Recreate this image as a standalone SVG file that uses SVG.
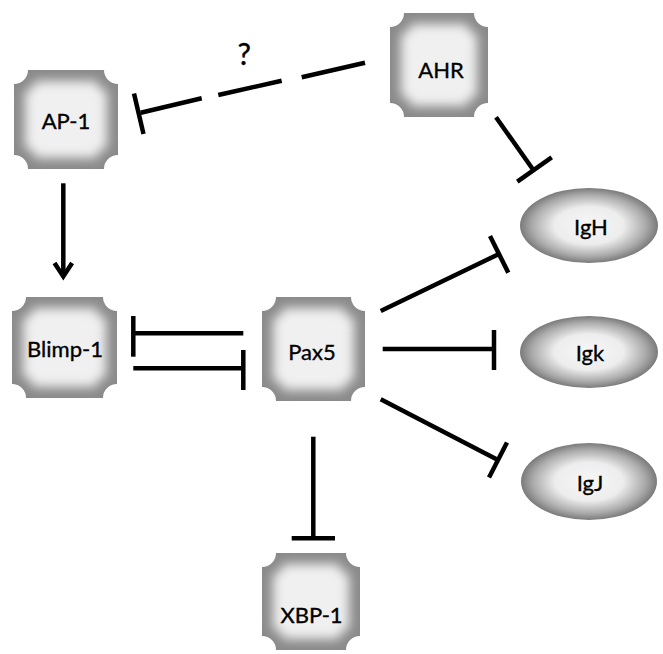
<svg xmlns="http://www.w3.org/2000/svg" width="663" height="654" viewBox="0 0 663 654">
  <style>
    .lbl { font-family: Lato, "Open Sans", "Liberation Sans", sans-serif; font-size: 22px; fill: #000; stroke: #000; stroke-width: 0.35; text-anchor: middle; }
    .q { font-family: Lato, "Open Sans", "Liberation Sans", sans-serif; font-size: 30px; fill: #000; stroke: #000; stroke-width: 0.4; text-anchor: middle; }
    .edge { stroke: #000; stroke-width: 4.5; fill: none; stroke-linecap: butt; }
    .rim { fill: #8a8a8a; }
    .face { fill: #f0f0f0; filter: url(#soft); }
    .oval { fill: url(#ovalGrad); }
  </style>
  <defs>
    <filter id="soft" x="-20%" y="-20%" width="140%" height="140%">
      <feGaussianBlur stdDeviation="5.5"/>
    </filter>
    <radialGradient id="ovalGrad" cx="0.5" cy="0.5" r="0.5">
      <stop offset="0" stop-color="#f7f7f7"/>
      <stop offset="0.5" stop-color="#ededed"/>
      <stop offset="0.82" stop-color="#ababab"/>
      <stop offset="1" stop-color="#7a7a7a"/>
    </radialGradient>
  </defs>

  <rect width="663" height="654" fill="#ffffff"/>

  <!-- connectors -->
  <g id="connectors">
    <!-- AHR -| AP-1 (dashed, uncertain) -->
    <line class="edge" x1="365" y1="62.7" x2="301.7" y2="77.3"/>
    <line class="edge" x1="281.7" y1="80.7" x2="218.3" y2="95"/>
    <line class="edge" x1="201.7" y1="98.3" x2="140.7" y2="112.7"/>
    <line class="edge" x1="134" y1="93.5" x2="143.5" y2="134"/>
    <!-- AHR -| IgH -->
    <line class="edge" x1="496" y1="117.3" x2="533" y2="169.5"/>
    <line class="edge" x1="517.3" y1="181.7" x2="551.7" y2="157.3"/>
    <!-- AP-1 -> Blimp-1 -->
    <line class="edge" x1="63.3" y1="183.3" x2="63.3" y2="275"/>
    <polyline class="edge" points="54.5,263 63.3,276.5 72.1,263"/>
    <!-- Pax5 -| Blimp-1 -->
    <line class="edge" x1="133.3" y1="333.3" x2="243.3" y2="333.3"/>
    <line class="edge" x1="133.3" y1="316" x2="133.3" y2="356.7"/>
    <!-- Blimp-1 -| Pax5 -->
    <line class="edge" x1="133.3" y1="368.3" x2="243.3" y2="368.3"/>
    <line class="edge" x1="243.3" y1="350" x2="243.3" y2="390"/>
    <!-- Pax5 -| IgH -->
    <line class="edge" x1="380.7" y1="311" x2="499" y2="254"/>
    <line class="edge" x1="490" y1="236" x2="508.3" y2="272.7"/>
    <!-- Pax5 -| Igk -->
    <line class="edge" x1="382.7" y1="349" x2="494" y2="349"/>
    <line class="edge" x1="494" y1="330" x2="494" y2="370"/>
    <!-- Pax5 -| IgJ -->
    <line class="edge" x1="380.7" y1="399.3" x2="498" y2="460"/>
    <line class="edge" x1="507" y1="442.5" x2="489" y2="477.5"/>
    <!-- Pax5 -| XBP-1 -->
    <line class="edge" x1="313.3" y1="436.7" x2="313.3" y2="538.3"/>
    <line class="edge" x1="291.7" y1="538.3" x2="335" y2="538.3"/>
  </g>
  <text class="q" x="244.3" y="65">?</text>

  <!-- bevelled square nodes: outer rim with concave corners, softened light face -->
  <g id="node-ap1">
    <path class="rim" d="M28,70 H104 A14,14 0 0 0 118,84 V155 A14,14 0 0 0 104,169 H28 A14,14 0 0 0 14,155 V84 A14,14 0 0 0 28,70 Z"/>
    <path class="face" d="M35,81 H97 A10,10 0 0 0 107,91 V148 A10,10 0 0 0 97,158 H35 A10,10 0 0 0 25,148 V91 A10,10 0 0 0 35,81 Z"/>
    <text class="lbl" x="66" y="129">AP-1</text>
  </g>

  <g id="node-ahr">
    <path class="rim" d="M404,13 H474 A14,14 0 0 0 488,27 V103 A14,14 0 0 0 474,117 H404 A14,14 0 0 0 390,103 V27 A14,14 0 0 0 404,13 Z"/>
    <path class="face" d="M411,24 H467 A10,10 0 0 0 477,34 V96 A10,10 0 0 0 467,106 H411 A10,10 0 0 0 401,96 V34 A10,10 0 0 0 411,24 Z"/>
    <text class="lbl" x="441" y="78">AHR</text>
  </g>

  <g id="node-blimp1">
    <path class="rim" d="M26,297 H103 A14,14 0 0 0 117,311 V384 A14,14 0 0 0 103,398 H26 A14,14 0 0 0 12,384 V311 A14,14 0 0 0 26,297 Z"/>
    <path class="face" d="M33,308 H96 A10,10 0 0 0 106,318 V377 A10,10 0 0 0 96,387 H33 A10,10 0 0 0 23,377 V318 A10,10 0 0 0 33,308 Z"/>
    <text class="lbl" x="65" y="356.5">Blimp-1</text>
  </g>

  <g id="node-pax5">
    <path class="rim" d="M276,297 H351 A14,14 0 0 0 365,311 V387 A14,14 0 0 0 351,401 H276 A14,14 0 0 0 262,387 V311 A14,14 0 0 0 276,297 Z"/>
    <path class="face" d="M283,308 H344 A10,10 0 0 0 354,318 V380 A10,10 0 0 0 344,390 H283 A10,10 0 0 0 273,380 V318 A10,10 0 0 0 283,308 Z"/>
    <text class="lbl" x="312" y="360">Pax5</text>
  </g>

  <g id="node-xbp1">
    <path class="rim" d="M276,553 H346 A14,14 0 0 0 360,567 V636 A14,14 0 0 0 346,650 H276 A14,14 0 0 0 262,636 V567 A14,14 0 0 0 276,553 Z"/>
    <path class="face" d="M283,564 H339 A10,10 0 0 0 349,574 V629 A10,10 0 0 0 339,639 H283 A10,10 0 0 0 273,629 V574 A10,10 0 0 0 283,564 Z"/>
    <text class="lbl" x="311.5" y="623">XBP-1</text>
  </g>

  <!-- oval target nodes -->
  <g id="node-igh">
    <ellipse class="oval" cx="589" cy="225.5" rx="69" ry="37.5"/>
    <text class="lbl" x="591" y="235">IgH</text>
  </g>
  <g id="node-igk">
    <ellipse class="oval" cx="589" cy="352" rx="69" ry="36"/>
    <text class="lbl" x="590" y="361">Igk</text>
  </g>
  <g id="node-igj">
    <ellipse class="oval" cx="589" cy="481.5" rx="68" ry="38.5"/>
    <text class="lbl" x="590" y="491">IgJ</text>
  </g>
</svg>
